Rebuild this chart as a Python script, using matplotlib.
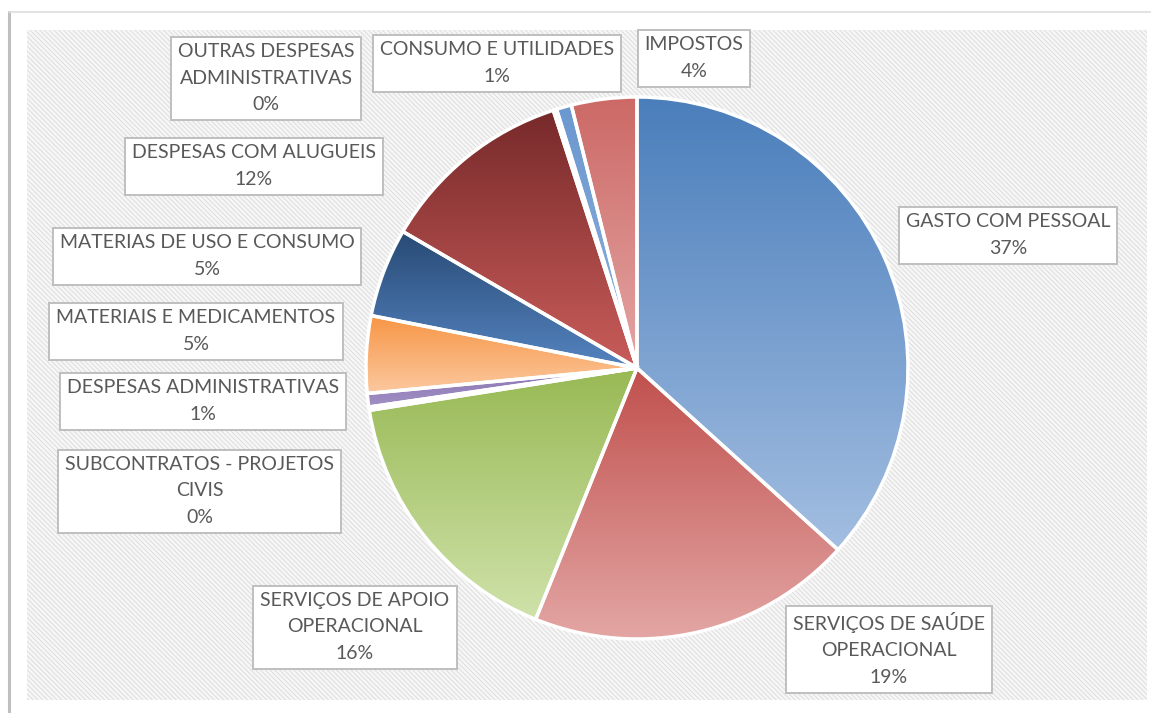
import numpy as np
import matplotlib.pyplot as plt
from matplotlib.patches import Rectangle
from matplotlib.colors import LinearSegmentedColormap

# slice data (clockwise from 12 o'clock), shares in percent
categories = [
    "GASTO COM PESSOAL",
    "SERVIÇOS DE SAÚDE\nOPERACIONAL",
    "SERVIÇOS DE APOIO\nOPERACIONAL",
    "SUBCONTRATOS - PROJETOS\nCIVIS",
    "DESPESAS ADMINISTRATIVAS",
    "MATERIAIS E MEDICAMENTOS",
    "MATERIAS DE USO E CONSUMO",
    "DESPESAS COM ALUGUEIS",
    "OUTRAS DESPESAS\nADMINISTRATIVAS",
    "CONSUMO E UTILIDADES",
    "IMPOSTOS",
]
values = [36.7, 19.4, 16.4, 0.2, 0.8, 4.6, 5.3, 11.6, 0.2, 0.9, 3.9]

top_colors = ["#4A7EBB", "#C0504D", "#98B954", "#8064A2", "#8A75B2", "#F79646",
              "#284A75", "#77292A", "#5F7530", "#6B98D0", "#CC6966"]
bottom_colors = ["#A3BEE1", "#E3A6A4", "#CFE2AA", "#8064A2", "#A08FC4", "#FCC9A0",
                 "#5584C0", "#C95D5A", "#5F7530", "#8EB0DB", "#E4A6A4"]

# label box centres in image pixels (x, y from top)
label_pos = [(1008, 235), (889, 649), (355, 627), (200, 491), (203, 401),
             (196, 331), (207, 256), (254, 166), (266, 78), (497, 63), (694, 58)]

W, H = 1151, 713
fig = plt.figure(figsize=(W / 100, H / 100), dpi=100)
ax = fig.add_axes([0, 0, 1, 1])
plt.rcParams['hatch.linewidth'] = 0.6

# outer frame and hatched chart area
ax.plot([9, 9], [0, H - 12], color="#BFBFBF", linewidth=2.2, zorder=1)
ax.plot([9, W], [H - 12, H - 12], color="#DDDDDD", linewidth=1.2, zorder=1)
ax.add_patch(Rectangle((27, H - 700), 1120, 670, facecolor="#F6F6F6",
                       edgecolor="#DADADA", hatch="\\\\\\\\\\\\\\", linewidth=0, zorder=1))

cx, cy, r = 637, H - 368, 271
wedges, _ = ax.pie(values, radius=r, center=(cx, cy), startangle=90, counterclock=False,
                   wedgeprops=dict(edgecolor="white", linewidth=2.5))

grad = np.linspace(0, 1, 256).reshape(-1, 1)
for w, c0, c1 in zip(wedges, top_colors, bottom_colors):
    w.set_facecolor("none")
    w.set_zorder(4)
    bb = w.get_path().get_extents()
    cmap = LinearSegmentedColormap.from_list("g", [c1, c0])
    im = ax.imshow(grad, cmap=cmap, extent=(bb.x0, bb.x1, bb.y0, bb.y1),
                   origin="lower", aspect="auto", zorder=3)
    im.set_clip_path(w)

ax.set_xlim(0, W)
ax.set_ylim(0, H)
ax.set_axis_off()

texts = []
for name, v, (lx, ly) in zip(categories, values, label_pos):
    t = ax.text(lx, H - ly, f"{name}\n{v:.0f}%", ha="center", va="center",
                fontsize=14, family="Lato", color="#595959", linespacing=1.65, zorder=6)
    texts.append(t)

renderer = fig.canvas.get_renderer()
for t in texts:
    bb = t.get_window_extent(renderer)
    ax.add_patch(Rectangle((bb.x0 - 7, bb.y0 - 7), bb.width + 14, bb.height + 13,
                           facecolor="white", edgecolor="#BFBFBF", linewidth=1.4, zorder=5))

fig.savefig("out.png", dpi=100)
